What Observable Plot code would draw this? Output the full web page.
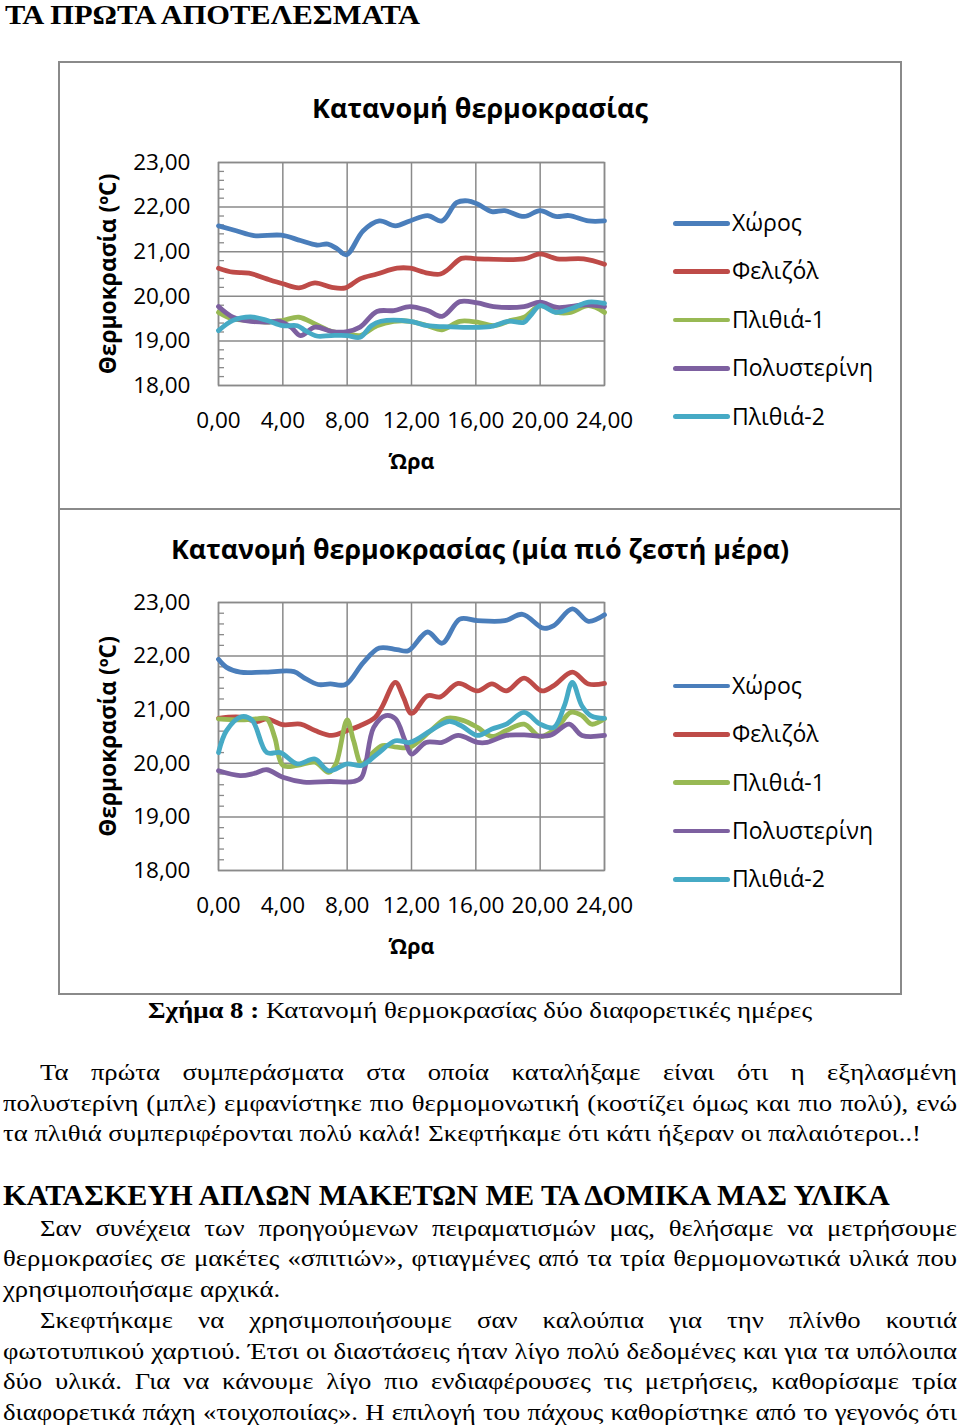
<!DOCTYPE html>
<html><head><meta charset="utf-8">
<script src="https://cdn.jsdelivr.net/npm/d3@7"></script>
<script src="https://cdn.jsdelivr.net/npm/@observablehq/plot@0.6"></script>
<style>
html,body{margin:0;padding:0;background:#fff;}
body{width:960px;height:1427px;position:relative;overflow:hidden;}
.abs{position:absolute;white-space:pre;line-height:1;transform-origin:0 0;color:#000;}
.box{position:absolute;border:2px solid #8a8a8a;box-sizing:border-box;}
.chart{position:absolute;}
.chart svg{display:block;background:transparent;}
</style></head><body>
<script>
// ---------- data ----------
const seriesNames = ["Χώρος", "Φελιζόλ", "Πλιθιά-1", "Πολυστερίνη", "Πλιθιά-2"];
const seriesColors = ["#4A7EBB", "#BE4B48", "#98B954", "#7D60A0", "#46AAC5"];
const xTicks = [0, 4, 8, 12, 16, 20, 24];
const yTicks = [18, 19, 20, 21, 22, 23];
const chartTitle1 = "Κατανομή θερμοκρασίας";
const chartTitle2 = "Κατανομή θερμοκρασίας (μία πιό ζεστή μέρα)";
const yLabel = "Θερμοκρασία (ºC)";
const xLabel = "Ώρα";

// Day 1 — [hour, °C]
const day1Xoros = [[0,21.58],[1.1,21.47],[2.2,21.36],[3.9,21.37],[5.1,21.25],[6.1,21.15],[6.8,21.17],[7.4,21.06],[7.95,20.93],[9.0,21.47],[10.0,21.69],[11.0,21.58],[11.9,21.69],[13.0,21.81],[13.9,21.69],[14.8,22.10],[15.5,22.14],[16.1,22.07],[17.0,21.90],[17.8,21.92],[19.0,21.79],[20.0,21.92],[20.95,21.79],[21.8,21.81],[23.0,21.69],[24,21.69]];
const day1Felizol = [[0,20.63],[0.9,20.54],[1.9,20.52],[3.0,20.39],[4.0,20.28],[5.0,20.19],[6.0,20.30],[7.05,20.20],[7.9,20.19],[8.8,20.39],[9.85,20.50],[11.1,20.63],[11.9,20.63],[13.0,20.52],[13.8,20.50],[14.3,20.61],[15.1,20.85],[16.1,20.84],[19.0,20.84],[20.0,20.95],[21.05,20.84],[22.7,20.84],[24,20.72]];
const day1Plithia1 = [[0,19.64],[0.9,19.49],[2.0,19.46],[3.0,19.42],[4.0,19.46],[5.0,19.53],[6.0,19.38],[7.05,19.21],[8.0,19.17],[8.8,19.12],[9.85,19.34],[10.9,19.44],[11.9,19.44],[13.0,19.34],[13.9,19.25],[15.0,19.44],[16.1,19.42],[17.1,19.34],[18.2,19.46],[19.0,19.53],[20.0,19.79],[21.05,19.64],[21.9,19.64],[23.0,19.79],[24,19.64]];
const day1Polysterini = [[0,19.77],[0.9,19.53],[2.0,19.44],[3.0,19.42],[3.8,19.44],[4.5,19.31],[5.1,19.12],[6.0,19.31],[7.05,19.21],[8.0,19.21],[8.8,19.31],[9.85,19.66],[10.9,19.68],[11.9,19.77],[13.0,19.68],[13.9,19.55],[15.0,19.88],[16.1,19.85],[17.1,19.77],[19.0,19.77],[20.0,19.87],[21.05,19.75],[22.9,19.81],[24,19.77]];
const day1Plithia2 = [[0,19.23],[0.9,19.46],[2.0,19.54],[3.0,19.46],[4.0,19.34],[4.9,19.34],[5.4,19.23],[6.1,19.11],[7.0,19.12],[8.0,19.12],[8.8,19.08],[9.5,19.34],[10.1,19.44],[11.9,19.44],[13.0,19.34],[14.0,19.32],[16.9,19.32],[18.0,19.44],[19.0,19.42],[19.4,19.57],[20.0,19.79],[20.95,19.64],[21.9,19.72],[23.0,19.87],[24,19.84]];

// Day 2 (warmer day) — [hour, °C]
const day2Xoros = [[0,21.94],[0.5,21.79],[1.35,21.70],[2.8,21.70],[4.7,21.71],[5.3,21.60],[6.2,21.47],[6.95,21.48],[7.9,21.47],[9.0,21.88],[10.0,22.15],[11.1,22.12],[11.8,22.10],[13.0,22.45],[13.9,22.24],[15.0,22.69],[16.1,22.66],[17.8,22.66],[18.9,22.78],[20.2,22.52],[20.85,22.57],[22.0,22.88],[23.0,22.65],[24,22.77]];
const day2Felizol = [[0,20.84],[1.35,20.86],[2.4,20.78],[3.0,20.83],[4.0,20.72],[5.1,20.73],[6.0,20.61],[7.05,20.52],[8.0,20.61],[8.8,20.70],[9.75,20.86],[10.2,21.07],[11.0,21.51],[11.5,21.23],[12.0,20.93],[13.0,21.26],[13.8,21.24],[14.9,21.49],[16.1,21.35],[17.0,21.48],[17.9,21.35],[19.0,21.59],[20.1,21.35],[20.85,21.45],[22.0,21.70],[23.0,21.48],[24,21.49]];
const day2Plithia1 = [[0,20.83],[1.35,20.81],[2.4,20.83],[3.0,20.83],[3.5,20.48],[4.0,19.96],[4.9,19.96],[6.0,20.02],[6.85,19.83],[7.3,19.99],[8.0,20.81],[8.4,20.42],[8.9,19.99],[9.5,20.17],[10.2,20.33],[11.1,20.30],[11.9,20.30],[13.2,20.61],[14.2,20.84],[15.2,20.80],[16.1,20.67],[17.0,20.50],[17.9,20.61],[19.0,20.73],[20.0,20.50],[21.05,20.67],[21.9,20.95],[22.6,20.89],[23.2,20.73],[24,20.83]];
const day2Polysterini = [[0,19.86],[1.35,19.77],[2.2,19.81],[3.0,19.88],[4.0,19.74],[5.3,19.65],[6.95,19.66],[8.4,19.66],[8.9,19.74],[9.65,20.67],[10.4,20.89],[11.0,20.83],[11.6,20.42],[12.0,20.17],[12.9,20.39],[13.9,20.39],[14.9,20.52],[16.1,20.39],[16.7,20.39],[17.9,20.52],[19.0,20.53],[20.6,20.52],[21.8,20.73],[22.6,20.52],[24,20.52]];
const day2Plithia2 = [[0,20.20],[0.5,20.61],[1.45,20.87],[2.1,20.80],[3.0,20.20],[3.85,20.20],[4.9,19.99],[6.0,20.08],[6.85,19.86],[8.0,19.99],[8.9,19.96],[9.85,20.17],[11.0,20.42],[11.9,20.39],[13.2,20.61],[14.3,20.78],[15.1,20.70],[16.1,20.52],[17.0,20.64],[17.9,20.73],[19.0,20.95],[20.0,20.73],[20.85,20.67],[21.5,21.07],[22.0,21.51],[22.6,21.07],[23.2,20.88],[24,20.84]];

// ---------- document text ----------
const heading1 = "ΤΑ ΠΡΩΤΑ ΑΠΟΤΕΛΕΣΜΑΤΑ";
const captionBold = "Σχήμα 8 :";
const captionText = " Κατανομή θερμοκρασίας δύο διαφορετικές ημέρες";
const heading2 = "ΚΑΤΑΣΚΕΥΗ ΑΠΛΩΝ ΜΑΚΕΤΩΝ ΜΕ ΤΑ ΔΟΜΙΚΑ ΜΑΣ ΥΛΙΚΑ";
const para1 = [
  "Τα πρώτα συμπεράσματα στα οποία καταλήξαμε είναι ότι η εξηλασμένη",
  "πολυστερίνη (μπλε) εμφανίστηκε πιο θερμομονωτική (κοστίζει όμως και πιο πολύ), ενώ",
  "τα πλιθιά συμπεριφέρονται πολύ καλά! Σκεφτήκαμε ότι κάτι ήξεραν οι παλαιότεροι..!"
];
const para2 = [
  "Σαν συνέχεια των προηγούμενων πειραματισμών μας, θελήσαμε να μετρήσουμε",
  "θερμοκρασίες σε μακέτες «σπιτιών», φτιαγμένες από τα τρία θερμομονωτικά υλικά που",
  "χρησιμοποιήσαμε αρχικά."
];
const para3 = [
  "Σκεφτήκαμε να χρησιμοποιήσουμε σαν καλούπια για την πλίνθο κουτιά",
  "φωτοτυπικού χαρτιού. Έτσι οι διαστάσεις ήταν λίγο πολύ δεδομένες και για τα υπόλοιπα",
  "δύο υλικά. Για να κάνουμε λίγο πιο ενδιαφέρουσες τις μετρήσεις, καθορίσαμε τρία",
  "διαφορετικά πάχη «τοιχοποιίας». Η επιλογή του πάχους καθορίστηκε από το γεγονός ότι"
];

// ---------- helpers ----------
const SERIF = "'Liberation Serif','Times New Roman',serif";
const SANS = "'Open Sans','Noto Sans',sans-serif";
const ctx = document.createElement("canvas").getContext("2d");
function measure(str, weight, size, family) {
  ctx.font = `${weight} ${size}px ${family}`;
  return ctx.measureText(str).width;
}
function topFor(baseline, size, family, weight) {
  ctx.font = `${weight} ${size}px ${family}`;
  const m = ctx.measureText("Hg");
  const a = m.fontBoundingBoxAscent, d = m.fontBoundingBoxDescent;
  if (a == null) return baseline - 0.85 * size;
  return baseline - ((size - (a + d)) / 2 + a);
}
// place a line of text; parts: [[text, weight], ...]
function placeLine({parts, left, baseline, size, family, width, scale, justify, center}) {
  if (typeof parts === "string") parts = [[parts, "normal"]];
  const natural = parts.reduce((a, [t, w]) => a + measure(t, w, size, family), 0);
  let s = scale ?? 1, ws = 0;
  if (width != null && !justify && scale == null) s = width / natural;
  if (justify) {
    const spaces = parts.reduce((a, [t]) => a + (t.match(/ /g) || []).length, 0);
    ws = (width / s - natural) / spaces;
  }
  const div = document.createElement("div");
  div.className = "abs";
  div.style.fontFamily = family;
  div.style.fontSize = size + "px";
  div.style.wordSpacing = ws + "px";
  div.style.transform = `scaleX(${s})`;
  div.style.top = topFor(baseline, size, family, parts[0][1]) + "px";
  div.style.left = (center != null ? center - natural * s / 2 : left) + "px";
  for (const [t, w] of parts) {
    const sp = document.createElement("span");
    sp.textContent = t;
    sp.style.fontWeight = w;
    div.appendChild(sp);
  }
  document.body.appendChild(div);
  return div;
}

const fmt = d => d.toFixed(2).replace(".", ",");
const minorTicks = d3.range(18, 23.001, 0.2).filter(v => Math.abs(v - Math.round(v)) > 0.01);

function makeChart(seriesData, {top, height, marginTop}) {
  const rows = seriesData.flatMap((pts, i) => pts.map(([h, t]) => ({series: seriesNames[i], h, t})));
  const W = 842, mL = 159, mR = 297, mB = 123;
  const plotW = W - mL - mR;
  const svg = Plot.plot({
    width: W, height, marginLeft: mL, marginRight: mR, marginTop, marginBottom: mB,
    style: {fontFamily: SANS, fontSize: "22.5px", color: "#000", background: "transparent", overflow: "visible"},
    x: {domain: [0, 24]},
    y: {domain: [18, 23]},
    color: {domain: seriesNames, range: seriesColors},
    marks: [
      Plot.gridX(xTicks, {stroke: "#8a8a8a", strokeOpacity: 1, strokeWidth: 1.5}),
      Plot.gridY(yTicks, {stroke: "#8a8a8a", strokeOpacity: 1, strokeWidth: 1.5}),
      Plot.tickY(minorTicks, {y: d => d, stroke: "#8a8a8a", strokeWidth: 1.3, insetRight: plotW - 6}),
      Plot.frame({stroke: "#8a8a8a", strokeWidth: 1.5}),
      Plot.axisX(xTicks, {tickSize: 0, tickPadding: 27, tickFormat: fmt, label: null, fill: "#000"}),
      Plot.axisY(yTicks, {tickSize: 0, tickPadding: 28, tickFormat: fmt, label: null, fill: "#000"}),
      Plot.line(rows, {x: "h", y: "t", z: "series", stroke: "series", strokeWidth: 4.8,
        curve: "catmull-rom", strokeLinecap: "round", strokeLinejoin: "round"}),
      Plot.text([yLabel], {frameAnchor: "left", dx: -110, rotate: -90, textAnchor: "middle", lineAnchor: "middle",
        fontWeight: "bold", fontSize: 22.8, fill: "#000"}),
      Plot.text([xLabel], {frameAnchor: "bottom", dy: 77, textAnchor: "middle", lineAnchor: "middle",
        fontWeight: "bold", fontSize: 21.5, fill: "#000"})
    ]
  });
  const wrap = document.createElement("div");
  wrap.className = "chart";
  wrap.style.left = "59px";
  wrap.style.top = top + "px";
  wrap.appendChild(svg);
  document.body.appendChild(wrap);
}

function legend(firstY) {
  seriesNames.forEach((name, i) => {
    const y = firstY + i * 48.35;
    const ln = document.createElement("div");
    ln.style.cssText = `position:absolute;left:673px;width:57px;height:4.6px;top:${y - 2.3}px;border-radius:3px;background:${seriesColors[i]}`;
    document.body.appendChild(ln);
    placeLine({parts: name, left: 732, baseline: y + 8.3, size: 23, family: SANS, scale: 1});
  });
}

// ---------- charts ----------
makeChart([day1Xoros, day1Felizol, day1Plithia1, day1Polysterini, day1Plithia2], {top: 62, height: 446, marginTop: 100});
makeChart([day2Xoros, day2Felizol, day2Plithia1, day2Polysterini, day2Plithia2], {top: 508, height: 485, marginTop: 94});

placeLine({parts: [[chartTitle1, "bold"]], center: 480, baseline: 118, size: 26.5, family: SANS, width: 336});
placeLine({parts: [[chartTitle2, "bold"]], center: 480, baseline: 559, size: 26.5, family: SANS, width: 618});
legend(223.3);
legend(686);

// chart boxes
for (const [t, h] of [[61, 449], [508, 487]]) {
  const b = document.createElement("div");
  b.className = "box";
  b.style.cssText += `left:58px;top:${t}px;width:844px;height:${h}px;`;
  document.body.appendChild(b);
}

// ---------- page text ----------
placeLine({parts: [[heading1, "bold"]], left: 5, baseline: 24, size: 28, family: SERIF, width: 420});
placeLine({parts: [[captionBold, "bold"], [captionText, "normal"]], left: 148, baseline: 1018, size: 24, family: SERIF, width: 664});
placeLine({parts: [[heading2, "bold"]], left: 3, baseline: 1205, size: 29, family: SERIF, width: 895});

const BODY = 24;
const s = 918 / measure(para1[2], "normal", BODY, SERIF);
function paragraph(lines, firstBaseline, lastJustified) {
  lines.forEach((ln, i) => {
    const left = i === 0 ? 40 : 3;
    const just = i < lines.length - 1 || lastJustified;
    placeLine({parts: ln, left, baseline: firstBaseline + i * 30.55, size: BODY, family: SERIF,
      scale: s, width: just ? 957 - left : null, justify: just});
  });
}
paragraph(para1, 1080, false);
paragraph(para2, 1235.5, false);
paragraph(para3, 1328, true);
</script></body></html>
